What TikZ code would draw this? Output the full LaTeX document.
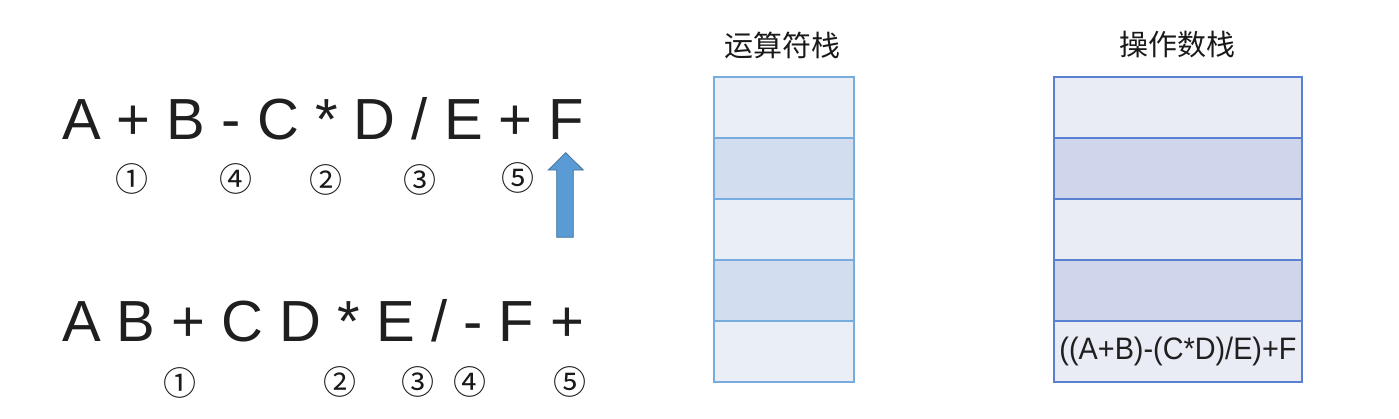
\documentclass[tikz,border=0pt]{standalone}
\usepackage{fontspec}
\setmainfont{Liberation Sans}
\newfontfamily\cjk{Noto Sans CJK SC}
\begin{document}
\begin{tikzpicture}[x=1pt,y=-1pt,
  bigtxt/.style={inner sep=0pt,anchor=base west,text=black!88,font=\fontsize{58}{60}\selectfont},
  circnum/.style={inner sep=0pt,anchor=center,text=black!90,font=\cjk\fontsize{33}{34}\selectfont},
  title/.style={inner sep=0pt,anchor=center,text=black!90,font=\cjk\fontsize{29}{30}\selectfont},
  lcell/.style={draw=lborder,line width=1.6pt,minimum width=140pt,minimum height=61pt,inner sep=0pt,outer sep=0pt},
  rcell/.style={draw=rborder,line width=1.6pt,minimum width=248pt,minimum height=61pt,inner sep=0pt,outer sep=0pt},
]
\definecolor{lborder}{HTML}{79ACDE}
\definecolor{llight}{HTML}{EAEFF7}
\definecolor{ldark}{HTML}{D2DEEF}
\definecolor{rborder}{HTML}{5B80D2}
\definecolor{rlight}{HTML}{E9EBF5}
\definecolor{rdark}{HTML}{CFD5EA}
\definecolor{arrfill}{HTML}{5B9BD5}
\definecolor{arrline}{HTML}{41719C}
\useasboundingbox[fill=white] (0,0) rectangle (1399,418);

% expressions
\node[bigtxt] (infix) at (62,139.5) {A + B - C * D / E + F};
\node[bigtxt] (postfix) at (62,341) {A B + C D * E / - F +};

% circled numbers, top row
\node[circnum] (t1) at (132,179) {①};
\node[circnum] (t4) at (236,179) {④};
\node[circnum] (t2) at (326,180) {②};
\node[circnum] (t3) at (420,180) {③};
\node[circnum] (t5) at (518,178) {⑤};
% circled numbers, bottom row
\node[circnum] (b1) at (180,383) {①};
\node[circnum] (b2) at (340,382) {②};
\node[circnum] (b3) at (418,382) {③};
\node[circnum] (b4) at (470,382) {④};
\node[circnum] (b5) at (570,382) {⑤};

% block arrow
\filldraw[fill=arrfill,draw=arrline,line width=0.8pt,line join=miter]
  (565.7,152.7) -- (583.3,170) -- (573.3,170) -- (573.3,237.3) -- (556.7,237.3) -- (556.7,170) -- (548.3,170) -- cycle;

% titles
\node[title] (ltitle) at (782.5,45) {运算符栈};
\node[title] (rtitle) at (1177,45) {操作数栈};

% operator stack
\node[lcell,fill=llight] (l1) at (784,107.5) {};
\node[lcell,fill=ldark]  (l2) at (784,168.5) {};
\node[lcell,fill=llight] (l3) at (784,229.5) {};
\node[lcell,fill=ldark]  (l4) at (784,290.5) {};
\node[lcell,fill=llight] (l5) at (784,351.5) {};

% operand stack
\node[rcell,fill=rlight] (r1) at (1178,107.5) {};
\node[rcell,fill=rdark]  (r2) at (1178,168.5) {};
\node[rcell,fill=rlight] (r3) at (1178,229.5) {};
\node[rcell,fill=rdark]  (r4) at (1178,290.5) {};
\node[rcell,fill=rlight] (r5) at (1178,351.5) {\scalebox{0.93}[1]{\fontsize{31}{32}\selectfont\color{black!88}((A+B)-(C*D)/E)+F}};
\end{tikzpicture}
\end{document}
